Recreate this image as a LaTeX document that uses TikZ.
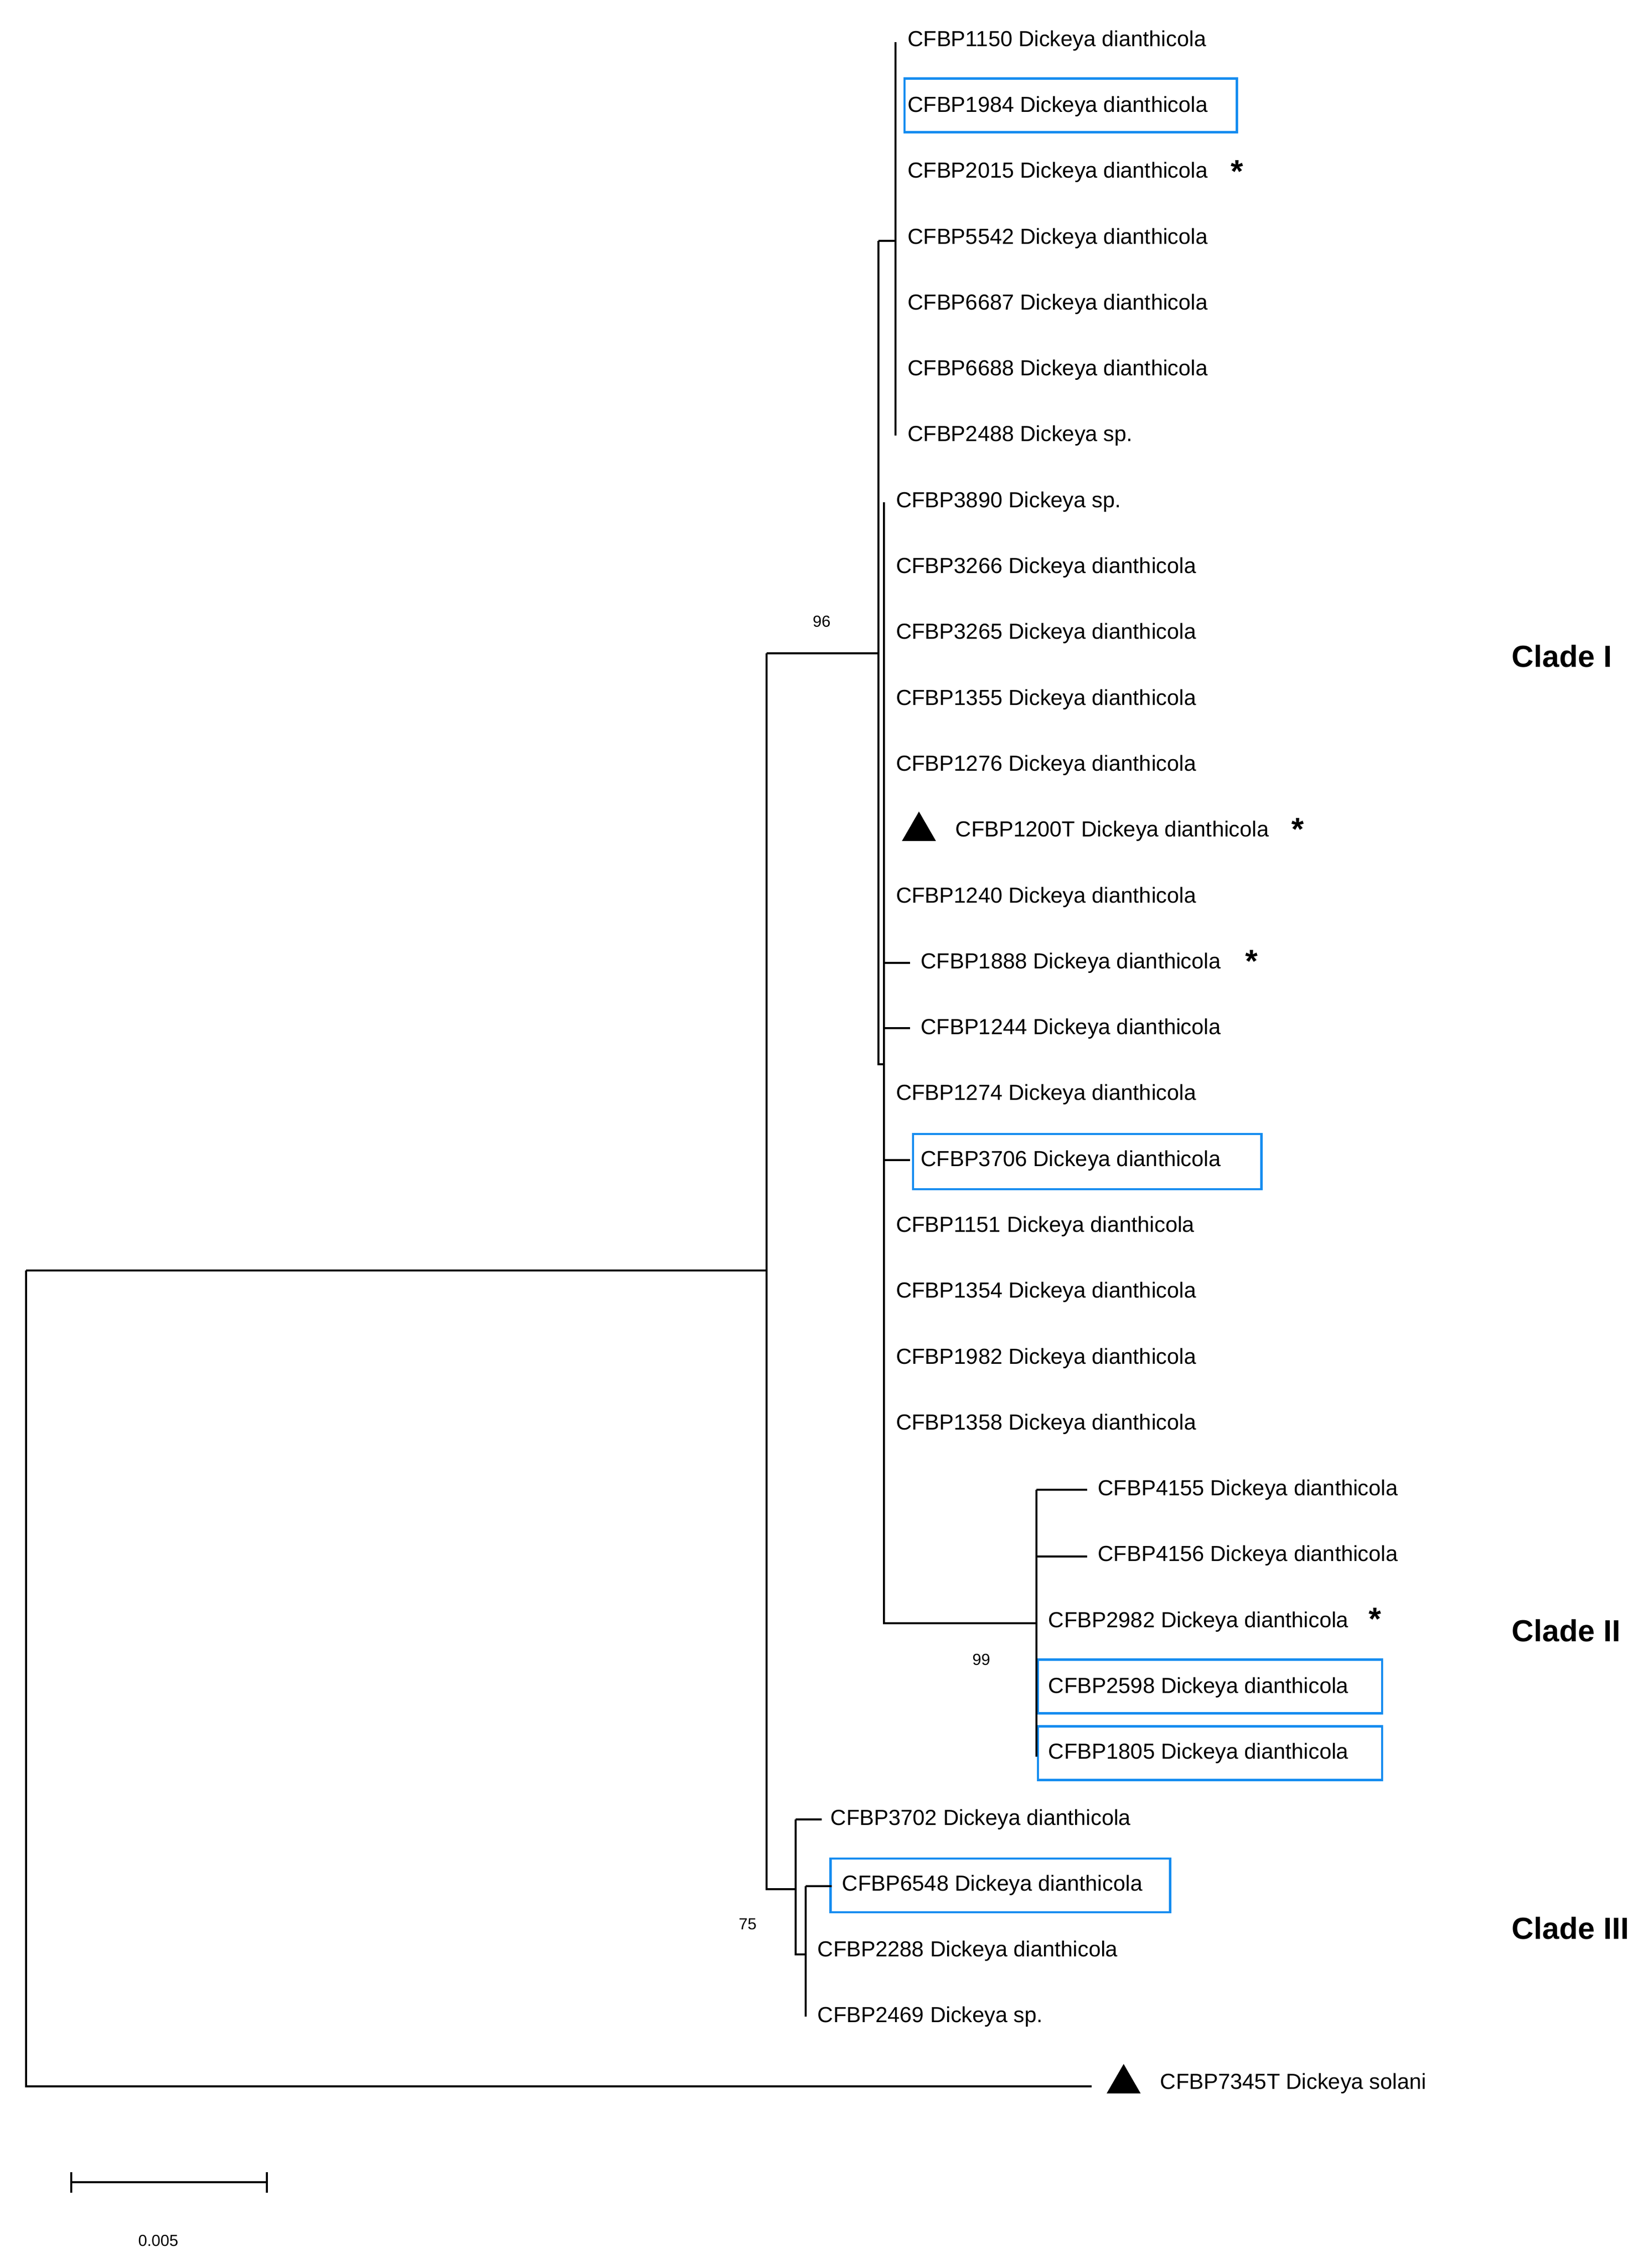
\documentclass[tikz,border=0pt]{standalone}
\usepackage{fontspec}
\setmainfont{Liberation Sans}
\usetikzlibrary{shapes.geometric}
\begin{document}
\begin{tikzpicture}[x=1pt,y=-1pt,
  leaf/.style={anchor=west,inner sep=0pt,font=\fontsize{15}{15}\selectfont},
  br/.style={line width=1.4pt},
  box/.style={draw={rgb,255:red,20;green,140;blue,240},line width=1.6pt},
  boot/.style={font=\fontsize{11}{11}\selectfont},
  clade/.style={anchor=west,font=\fontsize{21}{21}\selectfont\bfseries},
  star/.style={font=\fontsize{22}{22}\selectfont\bfseries,inner sep=0pt},
  tri/.style={regular polygon,regular polygon sides=3,fill=black,inner sep=0pt,minimum size=27pt}]
\useasboundingbox (0,0) rectangle (1135,1562);
\def\dy{45.37}
% group 1 leaves
\foreach \n/\t [count=\i from 0] in {
 1150/CFBP1150 Dickeya dianthicola,
 1984/CFBP1984 Dickeya dianthicola,
 2015/CFBP2015 Dickeya dianthicola,
 5542/CFBP5542 Dickeya dianthicola,
 6687/CFBP6687 Dickeya dianthicola,
 6688/CFBP6688 Dickeya dianthicola,
 2488/CFBP2488 Dickeya sp.}
 {\node[leaf] (l\n) at (625,28+\i*\dy) {\t};}
% group 2 leaves at x=617
\foreach \n/\t/\i in {
 3890/CFBP3890 Dickeya sp./7,
 3266/CFBP3266 Dickeya dianthicola/8,
 3265/CFBP3265 Dickeya dianthicola/9,
 1355/CFBP1355 Dickeya dianthicola/10,
 1276/CFBP1276 Dickeya dianthicola/11,
 1240/CFBP1240 Dickeya dianthicola/13,
 1274/CFBP1274 Dickeya dianthicola/16,
 1151/CFBP1151 Dickeya dianthicola/18,
 1354/CFBP1354 Dickeya dianthicola/19,
 1982/CFBP1982 Dickeya dianthicola/20,
 1358/CFBP1358 Dickeya dianthicola/21}
 {\node[leaf] (l\n) at (617,28+\i*\dy) {\t};}
\node[leaf] (l1200) at (658,28+12*\dy) {CFBP1200T Dickeya dianthicola};
\node[tri] (t1200) at (633,28+12*\dy) {};
\node[leaf] (l1888) at (634,28+14*\dy) {CFBP1888 Dickeya dianthicola};
\node[leaf] (l1244) at (634,28+15*\dy) {CFBP1244 Dickeya dianthicola};
\node[leaf] (l3706) at (634,28+17*\dy) {CFBP3706 Dickeya dianthicola};
% clade II
\node[leaf] (l4155) at (756,28+22*\dy) {CFBP4155 Dickeya dianthicola};
\node[leaf] (l4156) at (756,28+23*\dy) {CFBP4156 Dickeya dianthicola};
\node[leaf] (l2982) at (722,28+24*\dy) {CFBP2982 Dickeya dianthicola};
\node[leaf] (l2598) at (722,28+25*\dy) {CFBP2598 Dickeya dianthicola};
\node[leaf] (l1805) at (722,28+26*\dy) {CFBP1805 Dickeya dianthicola};
% clade III
\node[leaf] (l3702) at (572,28+27*\dy) {CFBP3702 Dickeya dianthicola};
\node[leaf] (l6548) at (580,28+28*\dy) {CFBP6548 Dickeya dianthicola};
\node[leaf] (l2288) at (563,28+29*\dy) {CFBP2288 Dickeya dianthicola};
\node[leaf] (l2469) at (563,28+30*\dy) {CFBP2469 Dickeya sp.};
% outgroup
\node[tri] (t7345) at (774,1435) {};
\node[leaf] (l7345) at (799,1435) {CFBP7345T Dickeya solani};
% boxes
\draw[box] (623,54) rectangle (852,91);
\draw[box] (629,781) rectangle (869,819);
\draw[box] (715,1143) rectangle (952,1180);
\draw[box] (715,1189) rectangle (952,1226);
\draw[box] (572,1280) rectangle (806,1317);
% asterisks
\node[star] (s2015) at (852,118) {*};
\node[star] (s1200) at (894,571) {*};
\node[star] (s1888) at (862,662) {*};
\node[star] (s2982) at (947,1115) {*};
% internal coordinates
\coordinate (root) at (18,875);
\coordinate (nA) at (528,875);
\coordinate (nI) at (605,450);
\coordinate (g1) at (617,166);
\coordinate (g2) at (609,733);
\coordinate (nII) at (714,1118);
\coordinate (nIII) at (548,1301);
\coordinate (n3b) at (555,1299);
% tree
\draw[br] (18,875) -- (18,1437) -- (752,1437);
\draw[br] (root) -- (nA);
\draw[br] (528,450) -- (528,1301) -- (nIII);
\draw[br] (528,450) -- (nI);
\draw[br] (605,166) -- (605,733) -- (g2);
\draw[br] (605,166) -- (g1);
\draw[br] (617,29) -- (617,300);
\draw[br] (609,346) -- (609,1118) -- (nII);
\draw[br] (609,663) -- (627,663);
\draw[br] (609,708) -- (627,708);
\draw[br] (609,799) -- (627,799);
\draw[br] (714,1026) -- (714,1210);
\draw[br] (714,1026) -- (749,1026);
\draw[br] (714,1072) -- (749,1072);
\draw[br] (548,1253) -- (548,1346) -- (555,1346);
\draw[br] (548,1253) -- (566,1253);
\draw[br] (555,1299) -- (555,1389);
\draw[br] (n3b) -- (573,1299);
% bootstrap
\node[boot] (b96) at (566,428) {96};
\node[boot] (b99) at (676,1143) {99};
\node[boot] (b75) at (515,1325) {75};
% clades
\node[clade] (cI) at (1038,452) {Clade I};
\node[clade] (cII) at (1038,1123) {Clade II};
\node[clade] (cIII) at (1038,1328) {Clade III};
% scale bar
\coordinate (sa) at (49,1503);
\coordinate (sb) at (184,1503);
\draw[br] (sa) -- (sb);
\draw[br] (49,1496) -- (49,1510);
\draw[br] (184,1496) -- (184,1510);
\node[boot] (sc) at (109,1543) {0.005};
\end{tikzpicture}
\end{document}
